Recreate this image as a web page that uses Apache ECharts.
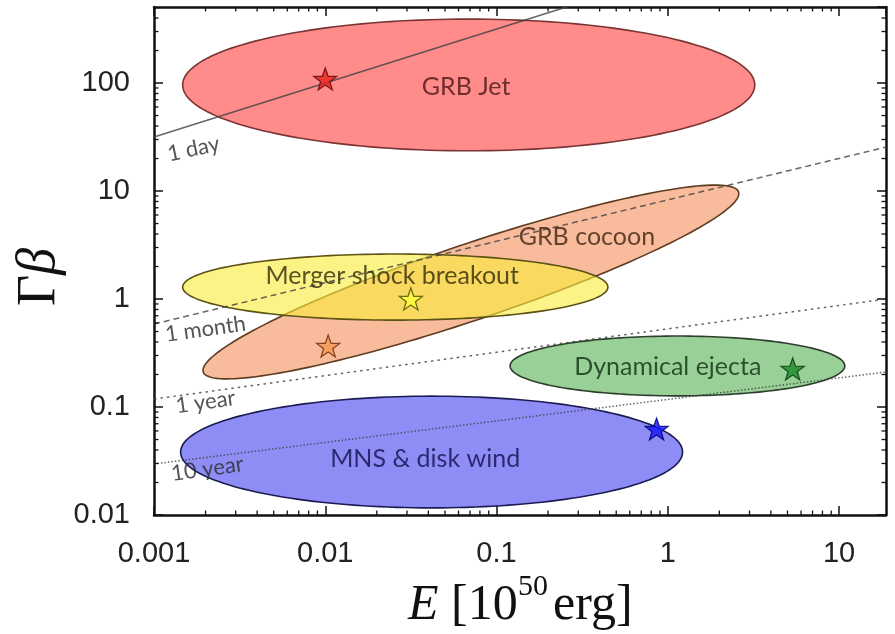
<!DOCTYPE html>
<html>
<head>
<meta charset="utf-8">
<script src="https://cdn.jsdelivr.net/npm/echarts@6/dist/echarts.min.js"></script>
<style>
  html, body { margin: 0; padding: 0; background: #fff; }
  #chart { width: 895px; height: 634px; }
</style>
</head>
<body>
<div id="chart"></div>
<script>
// ---------------- data ----------------
const xMin = 0.001, xMax = 18.8;
const yMin = 0.01, yMax = 506;

const regionNames = ['GRB Jet', 'GRB cocoon', 'Merger shock breakout', 'Dynamical ejecta', 'MNS & disk wind'];
// ends of the long axis of each region (E, Γβ)
const regionLeftTip  = [[0.00147, 96], [0.00194, 0.211], [0.00147, 1.29], [0.12, 0.24], [0.00143, 0.0383]];
const regionRightTip = [[3.22, 96],    [2.59, 9.8],      [0.447, 1.29],   [10.8, 0.24], [1.22, 0.0383]];
// Γβ of the upper edge straight above the region centre
const regionTopAtCentre = [391, 3.37, 2.61, 0.454, 0.126];
const regionLabelAt = [[0.0664, 91.8], [0.337, 3.75], [0.0246, 1.63], [1.0, 0.234], [0.0383, 0.033]];

const starE  = [0.01, 0.0104, 0.0316, 5.36, 0.86];
const starGB = [109, 0.367, 1.0, 0.225, 0.0625];

const timescaleNames = ['1 day', '1 month', '1 year', '10 year'];
const timescaleStart = [[0.001, 31.6], [0.001, 0.587], [0.001, 0.1186], [0.001, 0.0297]];
const timescaleEnd   = [[0.27, 520],   [18.8, 25.5],   [18.8, 1.0],     [18.8, 0.211]];
const timescaleLabelAt = [[0.0017, 24.5], [0.002, 0.527], [0.002, 0.111], [0.00205, 0.0267]];

const xDecades = [0.001, 0.01, 0.1, 1, 10];
const yDecades = [0.01, 0.1, 1, 10, 100];
const minorMantissa = [2, 3, 4, 5, 6, 7, 8, 9];

// ---------------- styles ----------------
const regionFill   = ['#ff8b8b', '#f8bc9c', 'rgba(250,236,60,0.62)', '#98d098', '#8d8df5'];
const regionStroke = ['#7a3434', '#5e3c22', '#5c5214', '#2c3e2c', '#1c1c54'];
const regionText   = ['#4a1414', '#3e2210', '#2e2a08', '#0e300e', '#10104e'];
const starFill     = ['#e8221c', '#f59a52', '#ffff3a', '#1b8a2b', '#1212ff'];
const starStroke   = ['#5a0a0a', '#6a2a0a', '#4a4a00', '#0a3a0a', '#00006a'];
const lineDash     = ['solid', [6, 4], [2.5, 4], [1.5, 2]];
const lineLabelRot = [12, 8, 8, 8];

const STAR = 'path://M100 0 L123.5 67.6 L195.1 69.1 L138 112.4 L158.8 180.9 L100 140 L41.2 180.9 L62 112.4 L4.9 69.1 L76.5 67.6 Z';
const tickFont = 'Liberation Sans, Arial, sans-serif';
const noteFont = 'Lato, "Open Sans", sans-serif';
const serif = '"Liberation Serif", "DejaVu Serif", serif';

function decadeLabel(v) {
  const e = Math.round(Math.log10(v));
  if (Math.abs(Math.log10(v) - e) > 1e-6) return '';
  return e >= 0 ? String(Math.pow(10, e)) : '0.' + '0'.repeat(-e - 1) + '1';
}

const xMinor = [], yMinor = [];
xDecades.forEach(d => minorMantissa.forEach(m => { if (d * m < xMax) xMinor.push([d * m, 1]); }));
yDecades.forEach(d => minorMantissa.forEach(m => { if (d * m < yMax) yMinor.push([1, d * m]); }));

const axisLine = { show: true, lineStyle: { color: '#111', width: 2.5 } };
const axisTick = { show: true, inside: true, length: 9, lineStyle: { color: '#111', width: 1.5 } };

function renderRegion(params, api) {
  const i = params.dataIndex;
  const p1 = api.coord([api.value(0), api.value(1)]);
  const p2 = api.coord([api.value(2), api.value(3)]);
  const eC = Math.sqrt(api.value(0) * api.value(2));
  const top = api.coord([eC, api.value(4)]);
  const cx = (p1[0] + p2[0]) / 2, cy = (p1[1] + p2[1]) / 2;
  const dx = p2[0] - p1[0], dy = p2[1] - p1[1];
  const a = Math.sqrt(dx * dx + dy * dy) / 2;
  const phi = Math.atan2(dy, dx);
  const s = Math.sin(phi), c = Math.cos(phi);
  const h = Math.abs(cy - top[1]);
  const b = h * a * Math.abs(c) / Math.sqrt(a * a - h * h * s * s);
  const pts = [];
  const N = 180;
  for (let k = 0; k < N; k++) {
    const t = 2 * Math.PI * k / N;
    const u = a * Math.cos(t), w = b * Math.sin(t);
    pts.push([cx + u * c - w * s, cy + u * s + w * c]);
  }
  return {
    type: 'polygon',
    shape: { points: pts },
    style: { fill: regionFill[i], stroke: regionStroke[i], lineWidth: 1.6 }
  };
}

function renderXMinor(params, api) {
  const cs = params.coordSys;
  const px = api.coord([api.value(0), api.value(1)])[0];
  const L = 4.5;
  const st = { stroke: '#111', lineWidth: 1.3 };
  return { type: 'group', children: [
    { type: 'line', shape: { x1: px, y1: cs.y + cs.height, x2: px, y2: cs.y + cs.height - L }, style: st },
    { type: 'line', shape: { x1: px, y1: cs.y, x2: px, y2: cs.y + L }, style: st }
  ]};
}
function renderYMinor(params, api) {
  const cs = params.coordSys;
  const py = api.coord([api.value(0), api.value(1)])[1];
  const L = 4.5;
  const st = { stroke: '#111', lineWidth: 1.3 };
  return { type: 'group', children: [
    { type: 'line', shape: { x1: cs.x, y1: py, x2: cs.x + L, y2: py }, style: st },
    { type: 'line', shape: { x1: cs.x + cs.width, y1: py, x2: cs.x + cs.width - L, y2: py }, style: st }
  ]};
}

const series = [];
series.push({
  type: 'custom', name: 'regions', z: 1,
  renderItem: renderRegion,
  data: regionNames.map((n, i) => [regionLeftTip[i][0], regionLeftTip[i][1], regionRightTip[i][0], regionRightTip[i][1], regionTopAtCentre[i]]),
  silent: true
});
timescaleNames.forEach((n, i) => {
  series.push({
    type: 'line', name: n, z: 3, showSymbol: false, symbol: 'none', clip: true, silent: true,
    data: [timescaleStart[i], timescaleEnd[i]],
    lineStyle: { color: '#404040', width: 1.5, type: lineDash[i], opacity: 0.8 }
  });
});
series.push({
  type: 'scatter', name: 'stars', z: 5, symbol: STAR, symbolSize: 23, symbolKeepAspect: true,
  data: starE.map((e, i) => ({
    value: [e, starGB[i]],
    itemStyle: { color: starFill[i], borderColor: starStroke[i], borderWidth: 1.3 }
  })),
  silent: true
});
series.push({
  type: 'scatter', name: 'regionLabels', z: 6, symbolSize: 0, silent: true,
  data: regionNames.map((n, i) => ({
    value: regionLabelAt[i], name: n,
    label: { show: true, position: 'inside', formatter: n, color: regionText[i],
             fontFamily: noteFont, fontSize: 25 }
  }))
});
series.push({
  type: 'scatter', name: 'lineLabels', z: 6, symbolSize: 0, silent: true,
  data: timescaleNames.map((n, i) => ({
    value: timescaleLabelAt[i], name: n,
    label: { show: true, position: 'inside', formatter: n, color: '#2a2a2a',
             fontFamily: noteFont, fontSize: 22, rotate: lineLabelRot[i] }
  }))
});
series.push({ type: 'custom', name: 'xminor', z: 7, renderItem: renderXMinor, data: xMinor, silent: true });
series.push({ type: 'custom', name: 'yminor', z: 7, renderItem: renderYMinor, data: yMinor, silent: true });

const option = {
  animation: false,
  backgroundColor: '#fff',
  grid: { left: 154, right: 9, top: 7, bottom: 119, containLabel: false },
  xAxis: [
    { type: 'log', logBase: 10, min: xMin, max: xMax, position: 'bottom',
      axisLine, axisTick, splitLine: { show: false }, minorTick: { show: false },
      axisLabel: { formatter: decadeLabel, fontFamily: tickFont, fontSize: 29, color: '#222', margin: 24,
                   showMaxLabel: false } },
    { type: 'log', logBase: 10, min: xMin, max: xMax, position: 'top',
      axisLine, axisTick, splitLine: { show: false }, axisLabel: { show: false } }
  ],
  yAxis: [
    { type: 'log', logBase: 10, min: yMin, max: yMax, position: 'left',
      axisLine, axisTick, splitLine: { show: false },
      axisLabel: { formatter: decadeLabel, fontFamily: tickFont, fontSize: 29, color: '#222', margin: 24,
                   showMaxLabel: false } },
    { type: 'log', logBase: 10, min: yMin, max: yMax, position: 'right',
      axisLine, axisTick, splitLine: { show: false }, axisLabel: { show: false } }
  ],
  graphic: [
    { type: 'group', z: 10, children: [
      { type: 'text', x: 408, y: 606,
        style: { text: '{i|E}{n| [10}', align: 'left', verticalAlign: 'middle',
          rich: {
            i: { fontFamily: serif, fontStyle: 'italic', fontSize: 50, fill: '#111', color: '#111' },
            n: { fontFamily: serif, fontSize: 50, fill: '#111', color: '#111' }
          } } },
      { type: 'text', x: 518, y: 587,
        style: { text: '50', align: 'left', verticalAlign: 'middle', fill: '#111',
                 font: '30px ' + serif } },
      { type: 'text', x: 553, y: 606,
        style: { text: 'erg]', align: 'left', verticalAlign: 'middle', fill: '#111',
                 font: '50px ' + serif } }
    ] },
    { type: 'text', x: 40, y: 277, rotation: Math.PI / 2, z: 10,
      style: { text: '{n|Γ}{i|β}', align: 'center', verticalAlign: 'middle',
        rich: {
          i: { fontFamily: serif, fontStyle: 'italic', fontSize: 54, fill: '#111', color: '#111' },
          n: { fontFamily: serif, fontSize: 54, fill: '#111', color: '#111' }
        } } }
  ],
  series
};
series.forEach(s => { s.xAxisIndex = 0; s.yAxisIndex = 0; });

const chart = echarts.init(document.getElementById('chart'), null, { renderer: 'canvas' });
chart.setOption(option);
</script>
</body>
</html>
